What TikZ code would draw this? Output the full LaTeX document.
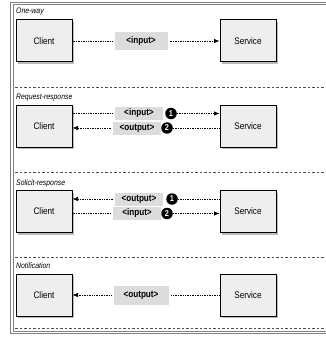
\documentclass[tikz,border=0pt]{standalone}
\usepackage{fontspec}
\setmainfont{Liberation Sans}[FakeStretch=0.86]
\usepackage{tikz}
\usetikzlibrary{positioning,arrows.meta,shadows}
\definecolor{boxgray}{RGB}{238,238,238}
\definecolor{taggray}{RGB}{220,220,220}

\begin{document}
\begin{tikzpicture}[>={Latex[width=4.5pt,length=5.5pt]},
  party/.style={draw, line width=1pt, fill=boxgray, minimum width=56pt, minimum height=42pt, font=\fontsize{9.5}{11}\selectfont,
    drop shadow={shadow xshift=2pt, shadow yshift=-2pt, fill=black!45, opacity=0.6}},
  tag/.style={fill=taggray, font=\fontsize{9.5}{11}\bfseries\selectfont, inner sep=0pt, outer sep=2pt},
  num/.style={circle, fill=black, text=white, inner sep=0pt, minimum size=11.5pt, font=\fontsize{8.5}{9}\bfseries\selectfont},
  caption/.style={anchor=west, inner sep=0pt, font=\fontsize{8}{9}\itshape\selectfont},
  msg/.style={densely dotted, line width=0.7pt},
  rule/.style={dashed, dash pattern=on 2.5pt off 2pt, line width=0.5pt, black!70}]
\useasboundingbox (0pt,0pt) rectangle (325pt,-337pt);
% outer frame
\draw[gray, double=white, double distance=1.8pt, line width=0.7pt] (340pt,-3.5pt) -- (12pt,-3.5pt) -- (12pt,-332.5pt) -- (340pt,-332.5pt);
% one-way
\draw (16.0pt, -12.0pt)node[caption](t1){One-way};
\draw (44.0pt, -41.0pt)node[party](c1){Client};
\draw (248.0pt, -41.0pt)node[party](s1){Service};
\draw (141.0pt, -41.0pt)node[tag, minimum width=53pt, minimum height=18pt](in1){<input>};
\path[msg] (c1) edge (in1);
\path[msg, ->] (in1) edge (s1);
\draw[rule] (15pt,-87pt) -- (325pt,-87pt);
% request-response
\draw (16.0pt, -98.0pt)node[caption](t2){Request-response};
\draw (44.0pt, -126.0pt)node[party](c2){Client};
\draw (248.0pt, -126.0pt)node[party](s2){Service};
\draw (139.0pt, -113.5pt)node[tag, minimum width=48pt, minimum height=13pt](in2){<input>};
\draw (171.0pt, -113.5pt)node[num](n21){1};
\draw (137.0pt, -128.0pt)node[tag, minimum width=48pt, minimum height=13pt](out2){<output>};
\draw (167.0pt, -128.0pt)node[num](n22){2};
\path[msg] (c2.east |- in2) edge (in2);
\path[msg, ->] (n21) edge (s2.west |- n21);
\path[msg] (s2.west |- n22) edge (n22);
\path[msg, ->] (out2) edge (c2.east |- out2);
\draw[rule] (15pt,-172pt) -- (325pt,-172pt);
% solicit-response
\draw (16.0pt, -183.0pt)node[caption](t3){Solicit-response};
\draw (44.0pt, -211.5pt)node[party](c3){Client};
\draw (248.0pt, -211.5pt)node[party](s3){Service};
\draw (139.0pt, -199.0pt)node[tag, minimum width=48pt, minimum height=13pt](out3){<output>};
\draw (172.0pt, -199.0pt)node[num](n31){1};
\draw (137.0pt, -213.5pt)node[tag, minimum width=48pt, minimum height=13pt](in3){<input>};
\draw (167.0pt, -213.5pt)node[num](n32){2};
\path[msg] (s3.west |- n31) edge (n31);
\path[msg, ->] (out3) edge (c3.east |- out3);
\path[msg] (c3.east |- in3) edge (in3);
\path[msg, ->] (n32) edge (s3.west |- n32);
\draw[rule] (15pt,-257pt) -- (325pt,-257pt);
% notification
\draw (16.0pt, -266.0pt)node[caption](t4){Notification};
\draw (44.0pt, -295.0pt)node[party](c4){Client};
\draw (248.0pt, -295.0pt)node[party](s4){Service};
\draw (141.0pt, -295.0pt)node[tag, minimum width=55pt, minimum height=19pt](out4){<output>};
\path[msg] (s4) edge (out4);
\path[msg, ->] (out4) edge (c4);
\draw[rule] (15pt,-328pt) -- (325pt,-328pt);
\end{tikzpicture}
\end{document}
